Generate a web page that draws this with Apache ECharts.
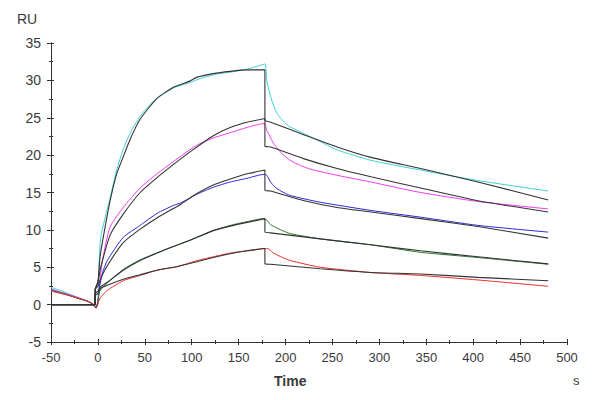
<!DOCTYPE html>
<html>
<head>
<meta charset="utf-8">
<script src="https://cdn.jsdelivr.net/npm/echarts@6/dist/echarts.min.js"></script>
<style>
html,body{margin:0;padding:0;background:#fff;}
#chart{width:600px;height:400px;}
</style>
</head>
<body>
<div id="chart"></div>
<script>
// ---- Data: [time (s), response (RU)] ----
const cyanData = [[-50,2.3],[-40,1.9],[-30,1.4],[-20,0.9],[-10,0.4],[-5,0.0],[-2,-0.4],[0,0.5],[1,5],[3,9],[8,11.8],[13,14.3],[20,18],[27,20.8],[35,23.1],[45,25.2],[55,26.7],[63,27.6],[81,29.0],[98,29.7],[110,30.3],[125,30.8],[141,31.1],[159,31.5],[170,31.9],[178,32.2],[180,30.0],[183,28.3],[186,27.1],[190,25.8],[195,24.9],[203,23.9],[216,23.1],[234,22.0],[255,20.7],[291,19.3],[344,18.0],[405,16.6],[480,15.2]];
const magentaData = [[-50,2.1],[-40,1.7],[-30,1.3],[-20,0.9],[-10,0.4],[-5,0.0],[-2,-0.4],[0,0.5],[2,3],[5,6],[13,10.4],[27,13.0],[45,15.6],[63,17.5],[81,19.2],[90,20.0],[105,21.3],[123,22.3],[141,23.0],[159,23.7],[176,24.2],[178,24.2],[180,23.3],[183,22.6],[187,21.6],[192,20.8],[198,20.0],[205,19.3],[216,18.6],[227,18.1],[255,17.3],[291,16.4],[344,15.0],[405,13.8],[480,12.8]];
const blueData = [[-50,2.0],[-40,1.6],[-30,1.2],[-20,0.8],[-10,0.4],[-5,0.0],[-2,-0.4],[0,0.5],[2,2.5],[5,4.3],[10,5.9],[27,9.0],[45,10.6],[63,12.2],[81,13.3],[88,13.6],[106,14.8],[123,15.7],[141,16.4],[159,16.9],[176,17.4],[179,17.4],[181,17.1],[184,16.4],[189,15.7],[195,15.2],[205,14.6],[237,13.7],[291,12.6],[344,11.7],[405,10.6],[480,9.7]];
const greenData = [[-50,1.9],[-40,1.6],[-30,1.2],[-20,0.8],[-10,0.4],[-5,0.0],[-2,-0.5],[0,0.3],[2,1.8],[10,2.9],[27,4.7],[45,6.0],[63,6.9],[81,7.8],[98,8.6],[123,9.9],[141,10.6],[159,11.1],[176,11.5],[180,11.3],[184,10.7],[195,10.0],[205,9.5],[237,8.8],[291,8.0],[344,7.0],[405,6.3],[480,5.4]];
const redData = [[-50,1.8],[-40,1.5],[-30,1.2],[-20,0.8],[-10,0.4],[-5,0.1],[-2,-0.4],[0,0.0],[1,0.5],[3,1.0],[10,1.9],[27,3.2],[45,3.9],[63,4.6],[81,5.0],[88,5.2],[106,5.9],[123,6.4],[141,6.9],[159,7.2],[176,7.5],[181,7.5],[186,7.0],[195,6.4],[205,5.9],[237,5.0],[291,4.3],[344,3.9],[405,3.3],[480,2.45]];

const fit1Data = [[-50,0],[-3,0],[-3,2],[0,3],[2.4,6.5],[7.7,10.4],[13,13.9],[20,17.5],[25.5,19.3],[35,22.3],[45,24.8],[63,27.6],[81,29.1],[98,29.9],[105,30.4],[123,30.9],[141,31.2],[159,31.4],[178,31.4],[178,24.7],[184,24.4],[216,22.9],[255,21.1],[291,19.7],[344,18.2],[405,16.4],[480,14.0]];
const fit2Data = [[-50,0],[-3,0],[-3,2],[0,3.0],[3,5.0],[13,9.3],[27,12.1],[45,15.0],[63,17.0],[81,18.8],[100,20.6],[123,22.6],[141,23.7],[159,24.4],[178,24.9],[178,21.2],[184,21.1],[220,19.5],[255,18.2],[291,17.1],[344,15.6],[405,13.9],[480,12.4]];
const fit3Data = [[-50,0],[-3,0],[-3,2],[0,2.5],[3,3.5],[10,5.2],[27,8.3],[45,10.1],[63,11.6],[81,12.9],[88,13.4],[106,14.9],[123,16.0],[141,16.8],[159,17.5],[178,18.0],[178,15.3],[184,15.2],[220,13.9],[255,13.0],[291,12.4],[344,11.5],[405,10.45],[480,8.9]];
const fit4Data = [[-50,0],[-3,0],[-3,1.5],[0,1.8],[3,2.4],[10,3.0],[27,4.6],[45,5.9],[63,6.9],[81,7.8],[98,8.6],[123,9.9],[141,10.5],[159,11.0],[178,11.5],[178,9.7],[184,9.6],[237,8.8],[291,8.0],[344,7.2],[405,6.4],[480,5.45]];
const fit5Data = [[-50,0],[-3,0],[-3,1.2],[0,1.5],[3,2.2],[10,2.6],[27,3.4],[45,4.0],[63,4.6],[81,5.0],[98,5.5],[123,6.3],[141,6.8],[159,7.2],[178,7.5],[178,5.45],[184,5.4],[237,4.8],[291,4.3],[344,4.1],[405,3.65],[480,3.2]];

const measured = [
  {name:'c1', data:cyanData, color:'#3fd0d4'},
  {name:'c2', data:magentaData, color:'#ee3cf0'},
  {name:'c3', data:blueData, color:'#2a2ad6'},
  {name:'c4', data:greenData, color:'#2e7a2e'},
  {name:'c5', data:redData, color:'#e8302a'}
];
const fits = [fit1Data, fit2Data, fit3Data, fit4Data, fit5Data];

const xMin = -50, xMax = 500, xStep = 50;
const yMin = -5, yMax = 35, yStep = 5;

const chart = echarts.init(document.getElementById('chart'), null, {renderer:'svg'});
const txt = '#3a3a3a';
const axisBase = (extra) => Object.assign({
  type:'value', splitLine:{show:false},
  axisLine:{show:true, onZero:false, lineStyle:{color:'#333', width:1}},
  minorSplitLine:{show:false}
}, extra);

const series = [];
measured.forEach(m => series.push({
  type:'line', data:m.data, showSymbol:false, symbol:'none', animation:false,
  smooth:0.2,
  lineStyle:{color:m.color, width:1}, z:2
}));
fits.forEach(f => series.push({
  type:'line', data:f, showSymbol:false, symbol:'none', animation:false,
  smooth:0.2,
  lineStyle:{color:'#333333', width:1.1}, z:3
}));

chart.setOption({
  animation:false,
  backgroundColor:'#ffffff',
  grid:{left:51, right:33, top:43, bottom:58},
  xAxis:[
    axisBase({min:xMin, max:xMax, interval:xStep, position:'bottom',
      axisTick:{show:true, inside:false, length:3, lineStyle:{color:'#333'}},
      minorTick:{show:true, splitNumber:2, length:2, lineStyle:{color:'#333'}},
      axisLabel:{color:txt, fontSize:13, fontFamily:'Liberation Sans, Arial, sans-serif', margin:9}}),
    axisBase({min:xMin, max:xMax, interval:xStep, position:'bottom',
      axisTick:{show:true, inside:true, length:3, lineStyle:{color:'#333'}},
      minorTick:{show:true, splitNumber:2, length:2, lineStyle:{color:'#333'}},
      axisLabel:{show:false}})
  ],
  yAxis:[
    axisBase({min:yMin, max:yMax, interval:yStep, position:'left',
      axisTick:{show:true, inside:false, length:4, lineStyle:{color:'#333'}},
      minorTick:{show:true, splitNumber:2, length:2, lineStyle:{color:'#333'}},
      axisLabel:{color:txt, fontSize:14, fontFamily:'Liberation Sans, Arial, sans-serif', margin:10}}),
    axisBase({min:yMin, max:yMax, interval:yStep, position:'left', offset:0,
      axisTick:{show:true, inside:true, length:3, lineStyle:{color:'#333'}},
      minorTick:{show:true, splitNumber:2, length:2, lineStyle:{color:'#333'}},
      axisLabel:{show:false}})
  ],
  graphic:[
    {type:'text', left:17, top:12, style:{text:'RU', fill:txt, font:'14px "Liberation Sans", Arial, sans-serif'}},
    {type:'text', left:274, top:374, style:{text:'Time', fill:txt, font:'bold 14px "Liberation Sans", Arial, sans-serif'}},
    {type:'text', left:573, top:374, style:{text:'s', fill:txt, font:'13px "Liberation Sans", Arial, sans-serif'}}
  ],
  series: series
});
</script>
</body>
</html>
